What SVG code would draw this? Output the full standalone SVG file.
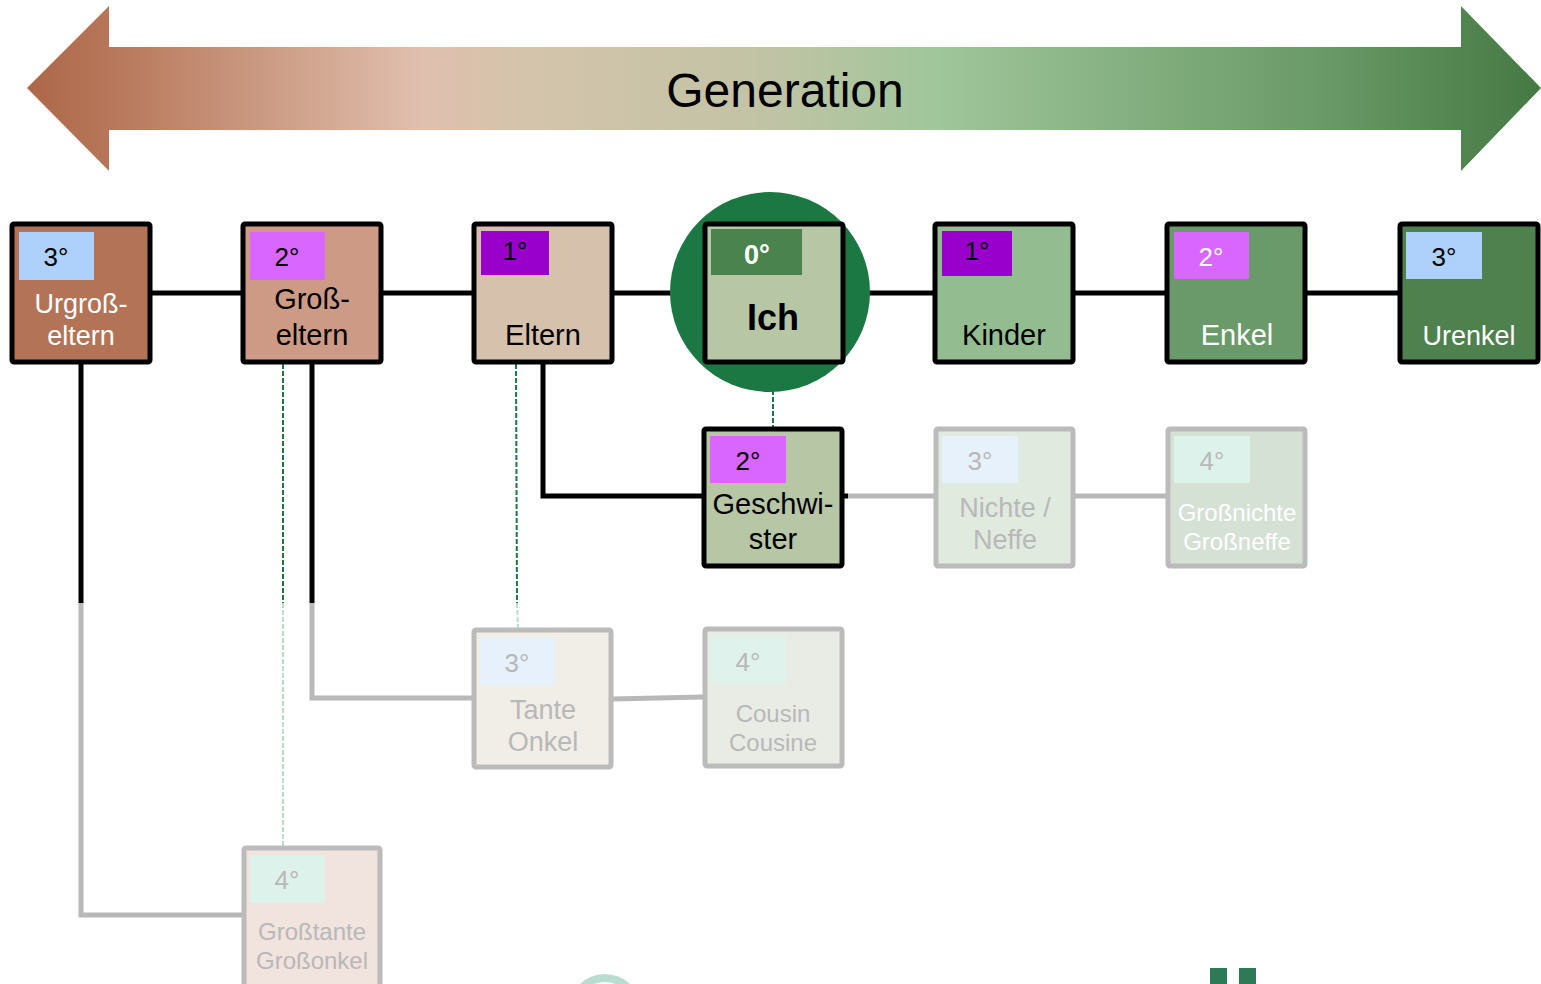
<svg xmlns="http://www.w3.org/2000/svg" width="1541" height="984" viewBox="0 0 1541 984">
<defs>
<linearGradient id="gen" x1="27" y1="0" x2="1541" y2="0" gradientUnits="userSpaceOnUse">
<stop offset="0" stop-color="#ad6749"/>
<stop offset="0.06" stop-color="#b8785b"/>
<stop offset="0.26" stop-color="#e0bfae"/>
<stop offset="0.33" stop-color="#d4c4ab"/>
<stop offset="0.48" stop-color="#c3c3a6"/>
<stop offset="0.6" stop-color="#a0c69b"/>
<stop offset="0.85" stop-color="#6b9b68"/>
<stop offset="1" stop-color="#457944"/>
</linearGradient>
<style>
text{font-family:"Liberation Sans",Arial,sans-serif;text-anchor:middle}
.box{stroke:#000;stroke-width:5}
.fbox{stroke:#bbbbbb;stroke-width:5}
.lbl{font-size:27px}
.big{font-size:29px}
.sm{font-size:24px}
.deg{font-size:26px}
.blk{fill:#000}
.wht{fill:#fff}
.gry{fill:#b8b8b8}
.ln{fill:none;stroke:#000;stroke-width:5}
.gln{fill:none;stroke:#b8b8b8;stroke-width:5}
.dash{fill:none;stroke:#1b7843;stroke-width:2;stroke-dasharray:5 2}
.ldash{fill:none;stroke:#b9dccb;stroke-width:2;stroke-dasharray:5 2}
</style>
</defs>
<g id="arrow">
<polygon points="27,88 109,6 109,47 1461,47 1461,6 1541,88 1461,171 1461,130 109,130 109,171" fill="url(#gen)"/>
<text x="785" y="107" style="font-size:48px" class="blk">Generation</text>
</g>
<g id="connectors">
<line x1="150" y1="293" x2="1399" y2="293" class="ln"/>
<polyline points="543,362 543,496 703,496" class="ln"/>
<line x1="842" y1="496" x2="848" y2="496" class="ln"/>
<line x1="848" y1="496" x2="935" y2="496" class="gln"/>
<line x1="1073" y1="496" x2="1167" y2="496" class="gln"/>
<line x1="312" y1="362" x2="312" y2="603" class="ln"/>
<polyline points="312,603 312,698 473,698" class="gln"/>
<line x1="612" y1="699" x2="704" y2="697" class="gln"/>
<line x1="81" y1="362" x2="81" y2="603" class="ln"/>
<polyline points="81,603 81,915 243,915" class="gln"/>
<line x1="773" y1="362" x2="773" y2="428" class="dash"/>
<line x1="516" y1="364" x2="517" y2="603" class="dash"/>
<line x1="517" y1="603" x2="518" y2="628" class="ldash"/>
<line x1="283" y1="364" x2="283" y2="603" class="dash"/>
<line x1="283" y1="603" x2="283" y2="847" class="ldash"/>
</g>
<g id="urgrosseltern">
<rect x="12" y="224" width="138" height="138" rx="2" fill="#b37356" class="box"/>
<rect x="19" y="232" width="75" height="48" fill="#add1fb"/>
<text x="56" y="266" class="deg blk">3°</text>
<text x="81" y="313" class="lbl wht">Urgroß-</text>
<text x="81" y="345" class="lbl wht">eltern</text>
</g>
<g id="grosseltern">
<rect x="243" y="224" width="138" height="138" rx="2" fill="#cd9b85" class="box"/>
<rect x="250" y="232" width="75" height="48" fill="#d966ff"/>
<text x="287" y="266" class="deg blk">2°</text>
<text x="312" y="309" class="big blk">Groß-</text>
<text x="312" y="345" class="big blk">eltern</text>
</g>
<g id="eltern">
<rect x="474" y="224" width="138" height="138" rx="2" fill="#d5c1ac" class="box"/>
<rect x="481" y="231" width="68" height="44" fill="#9900cc"/>
<text x="515" y="260" class="deg blk">1°</text>
<text x="543" y="345" class="big blk">Eltern</text>
</g>
<g id="ich">
<circle cx="770" cy="292" r="100" fill="#1b7843"/>
<rect x="705" y="224" width="138" height="138" rx="2" fill="#b7c6a5" class="box"/>
<rect x="711" y="229" width="91" height="46" fill="#4b834e"/>
<text x="757" y="264" class="wht" style="font-size:27px;font-weight:bold">0°</text>
<text x="773" y="330" class="blk" style="font-size:36px;font-weight:bold">Ich</text>
</g>
<g id="kinder">
<rect x="935" y="224" width="138" height="138" rx="2" fill="#93bd90" class="box"/>
<rect x="942" y="231" width="70" height="45" fill="#9900cc"/>
<text x="977" y="260" class="deg blk">1°</text>
<text x="1004" y="345" class="big blk">Kinder</text>
</g>
<g id="enkel">
<rect x="1167" y="224" width="138" height="138" rx="2" fill="#6a9a69" class="box"/>
<rect x="1174" y="232" width="75" height="47" fill="#d966ff"/>
<text x="1211" y="266" class="deg wht">2°</text>
<text x="1237" y="345" class="big wht">Enkel</text>
</g>
<g id="urenkel">
<rect x="1400" y="224" width="138" height="138" rx="2" fill="#4e814d" class="box"/>
<rect x="1406" y="232" width="76" height="47" fill="#add1fb"/>
<text x="1444" y="266" class="deg blk">3°</text>
<text x="1469" y="345" class="lbl wht">Urenkel</text>
</g>
<g id="geschwister">
<rect x="704" y="429" width="138" height="137" rx="2" fill="#b7c6a5" class="box"/>
<rect x="710" y="436" width="76" height="47" fill="#d966ff"/>
<text x="748" y="470" class="deg blk">2°</text>
<text x="773" y="514" class="big blk">Geschwi-</text>
<text x="773" y="549" class="big blk">ster</text>
</g>
<g id="nichte">
<rect x="936" y="429" width="137" height="137" rx="2" fill="#e0eadf" class="fbox"/>
<rect x="942" y="436" width="76" height="47" fill="#e6f1fb"/>
<text x="980" y="470" class="deg gry">3°</text>
<text x="1005" y="517" class="lbl gry">Nichte /</text>
<text x="1005" y="549" class="lbl gry">Neffe</text>
</g>
<g id="grossnichte">
<rect x="1168" y="429" width="137" height="137" rx="2" fill="#d6e1d5" class="fbox"/>
<rect x="1174" y="436" width="76" height="47" fill="#def2ec"/>
<text x="1212" y="470" class="deg gry">4°</text>
<text x="1237" y="521" class="sm wht">Großnichte</text>
<text x="1237" y="550" class="sm wht">Großneffe</text>
</g>
<g id="tante">
<rect x="474" y="630" width="137" height="137" rx="2" fill="#f1ede7" class="fbox"/>
<rect x="480" y="637" width="75" height="48" fill="#e6f1fb"/>
<text x="517" y="672" class="deg gry">3°</text>
<text x="543" y="719" class="lbl gry">Tante</text>
<text x="543" y="751" class="lbl gry">Onkel</text>
</g>
<g id="cousin">
<rect x="705" y="629" width="137" height="137" rx="2" fill="#e9ece5" class="fbox"/>
<rect x="711" y="636" width="75" height="48" fill="#dff3ec"/>
<text x="748" y="671" class="deg gry">4°</text>
<text x="773" y="722" class="sm gry">Cousin</text>
<text x="773" y="751" class="sm gry">Cousine</text>
</g>
<g id="grosstante">
<rect x="244" y="848" width="136" height="140" rx="2" fill="#f1e3de" class="fbox"/>
<rect x="250" y="855" width="75" height="48" fill="#def2ec"/>
<text x="287" y="889" class="deg gry">4°</text>
<text x="312" y="940" class="sm gry">Großtante</text>
<text x="312" y="969" class="sm gry">Großonkel</text>
</g>
<g id="logo">
<circle cx="605" cy="1010" r="32" fill="none" stroke="#b8ddd0" stroke-width="8"/>
<rect x="1210" y="968" width="17" height="16" fill="#2d7a57"/>
<rect x="1239" y="968" width="17" height="16" fill="#2d7a57"/>
</g>
</svg>
